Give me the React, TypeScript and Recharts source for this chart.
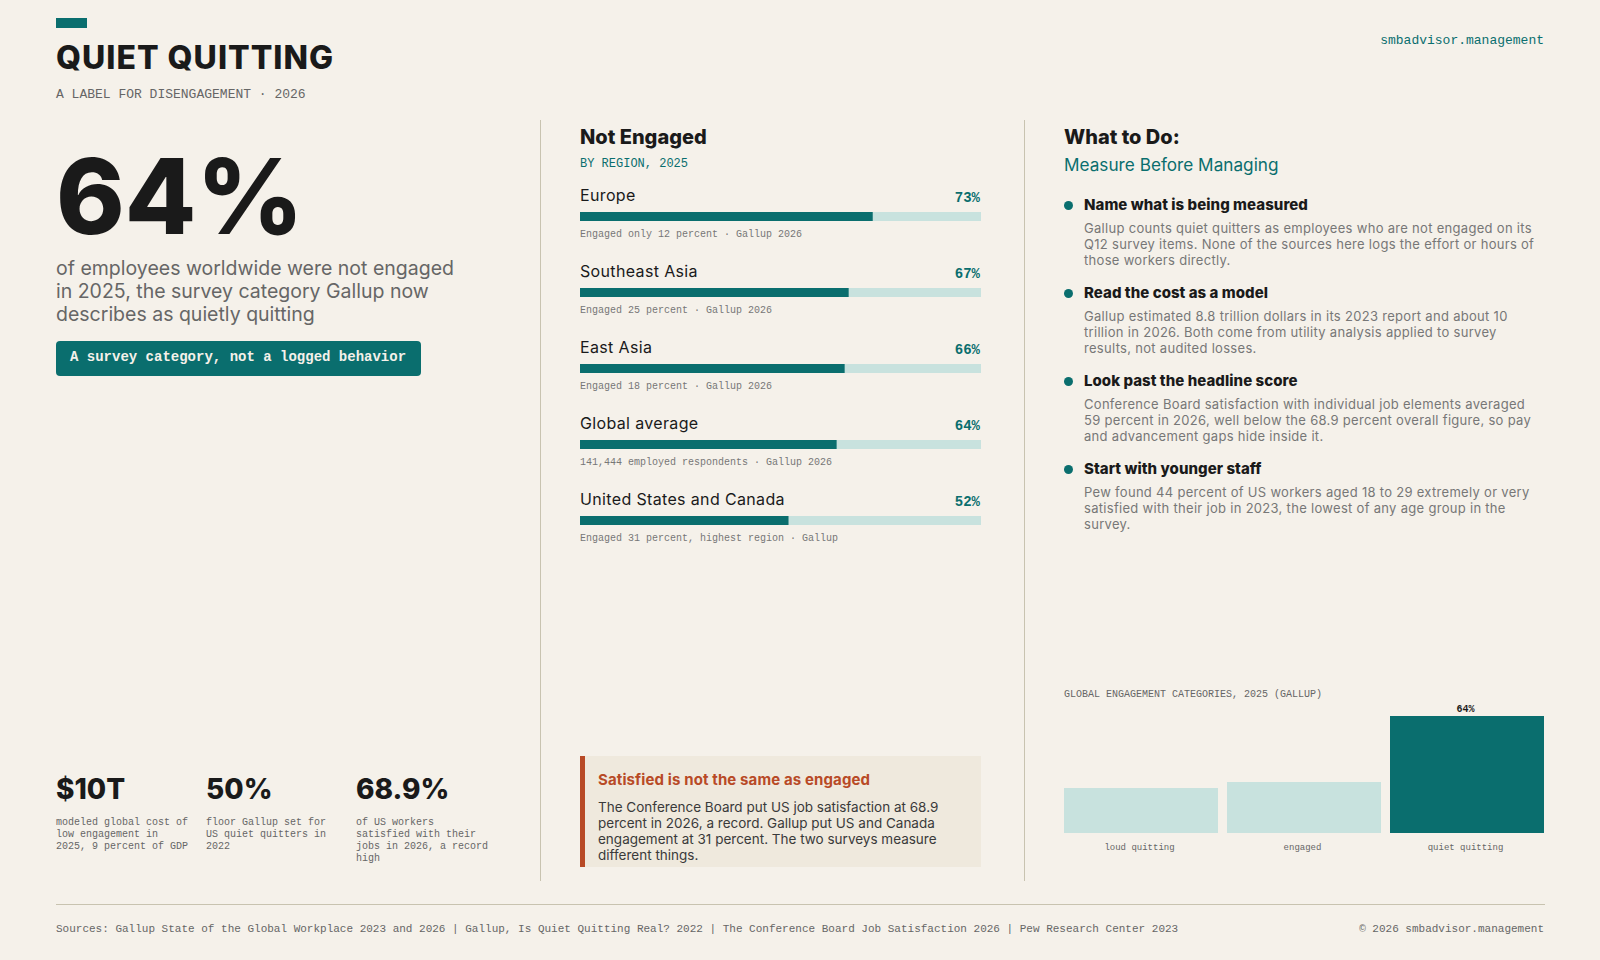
import type { CSSProperties, ReactNode } from 'react'
import { Bar, BarChart, Cell, LabelList, XAxis, YAxis } from 'recharts'

const SANS = 'Inter, "Noto Sans", sans-serif'
const MONO = '"Liberation Mono", "DejaVu Sans Mono", monospace'

const INK = '#1a1a1a'
const GREY = '#666666'
const SOFT = '#777777'
const TEAL = '#0a6e6e'
const PALE = '#c8e2de'
const RUST = '#b84a26'
const PAPER = '#f5f1ea'
const RULE = '#c8c3b0'

const regionNames = ['Europe', 'Southeast Asia', 'East Asia', 'Global average', 'United States and Canada']
const regionValues = [73, 67, 66, 64, 52]
const regionNotes = [
    'Engaged only 12 percent · Gallup 2026',
    'Engaged 25 percent · Gallup 2026',
    'Engaged 18 percent · Gallup 2026',
    '141,444 employed respondents · Gallup 2026',
    'Engaged 31 percent, highest region · Gallup',
]

const categoryNames = ['loud quitting', 'engaged', 'quiet quitting']
const categoryValues = [24.6, 27.9, 64]
const categoryLabels = [undefined, undefined, '64%']
const categoryColors = [PALE, PALE, TEAL]

const statValues = ['$10T', '50%', '68.9%']
const statCaptions = [
    ['modeled global cost of', 'low engagement in', '2025, 9 percent of GDP'],
    ['floor Gallup set for', 'US quiet quitters in', '2022'],
    ['of US workers', 'satisfied with their', 'jobs in 2026, a record', 'high'],
]

const actionTitles = [
    'Name what is being measured',
    'Read the cost as a model',
    'Look past the headline score',
    'Start with younger staff',
]
const actionBodies = [
    ['Gallup counts quiet quitters as employees who are not engaged on its', 'Q12 survey items. None of the sources here logs the effort or hours of', 'those workers directly.'],
    ['Gallup estimated 8.8 trillion dollars in its 2023 report and about 10', 'trillion in 2026. Both come from utility analysis applied to survey', 'results, not audited losses.'],
    ['Conference Board satisfaction with individual job elements averaged', '59 percent in 2026, well below the 68.9 percent overall figure, so pay', 'and advancement gaps hide inside it.'],
    ['Pew found 44 percent of US workers aged 18 to 29 extremely or very', 'satisfied with their job in 2023, the lowest of any age group in the', 'survey.'],
]

const headlineLines = [
    'of employees worldwide were not engaged',
    'in 2025, the survey category Gallup now',
    'describes as quietly quitting',
]
const calloutLines = [
    'The Conference Board put US job satisfaction at 68.9',
    'percent in 2026, a record. Gallup put US and Canada',
    'engagement at 31 percent. The two surveys measure',
    'different things.',
]

const sources =
    'Sources: Gallup State of the Global Workplace 2023 and 2026 | Gallup, Is Quiet Quitting Real? 2022 | The Conference Board Job Satisfaction 2026 | Pew Research Center 2023'

const categoryData = categoryNames.map((name, i) => ({
    name,
    value: categoryValues[i],
    label: categoryLabels[i],
}))

// y is the vertical centre of the line of text
function Txt({ x, y, right, size, color, font = SANS, weight = 400, spacing = 0, children }: {
    x?: number
    y: number
    right?: number
    size: number
    color: string
    font?: string
    weight?: number
    spacing?: number
    children: ReactNode
}) {
    const style: CSSProperties = {
        position: 'absolute',
        top: y - 15,
        height: 30,
        lineHeight: '30px',
        fontSize: size,
        fontFamily: font,
        fontWeight: weight,
        color,
        letterSpacing: spacing,
        whiteSpace: 'pre',
    }
    if (x !== undefined) style.left = x
    if (right !== undefined) style.right = 1600 - right
    return <div style={style}>{children}</div>
}

function Box({ x, y, w, h, color, radius = 0 }: { x: number; y: number; w: number; h: number; color: string; radius?: number }) {
    return <div style={{ position: 'absolute', left: x, top: y, width: w, height: h, background: color, borderRadius: radius }} />
}

function RegionRow({ index }: { index: number }) {
    const top = 76 * index
    return (
        <>
            <Txt x={580} y={195 + top} size={16} color={INK} spacing={0.35}>{regionNames[index]}</Txt>
            <Txt right={980} y={198 + top} size={14} color={TEAL} font={MONO} weight={700}>{regionValues[index]}%</Txt>
            <div style={{ position: 'absolute', left: 580, top: 212 + top }}>
                <BarChart
                    layout="vertical"
                    width={401}
                    height={9}
                    data={[{ name: regionNames[index], value: regionValues[index] }]}
                    margin={{ top: 0, right: 0, bottom: 0, left: 0 }}
                    barCategoryGap={0}
                >
                    <XAxis type="number" domain={[0, 100]} hide />
                    <YAxis type="category" dataKey="name" hide />
                    <Bar dataKey="value" fill={TEAL} background={{ fill: PALE }} isAnimationActive={false} />
                </BarChart>
            </div>
            <Txt x={580} y={234.5 + top} size={10} color={SOFT} font={MONO}>{regionNotes[index]}</Txt>
        </>
    )
}

export default function App() {
    return (
        <div style={{ position: 'absolute', left: 0, top: 0, width: 1600, height: 960, background: PAPER, overflow: 'hidden' }}>
            <Box x={56} y={18} w={31} h={10} color={TEAL} />
            <Txt x={56} y={58} size={32} color={INK} weight={800} spacing={1}>QUIET QUITTING</Txt>
            <Txt x={56} y={94.5} size={13} color={GREY} font={MONO}>A LABEL FOR DISENGAGEMENT · 2026</Txt>
            <Txt right={1544} y={40.5} size={13} color={TEAL} font={MONO}>smbadvisor.management</Txt>

            <Box x={540} y={120} w={1} h={761} color={RULE} />
            <Box x={1024} y={120} w={1} h={761} color={RULE} />

            {/* left column */}
            <Txt x={56} y={196} size={104} color={INK} weight={800}>64%</Txt>
            {headlineLines.map((line, i) => (
                <Txt key={line} x={56} y={267.5 + i * 23} size={19.5} color={GREY}>{line}</Txt>
            ))}
            <Box x={56} y={341} w={365} h={35} color={TEAL} radius={4} />
            <Txt x={70} y={356.5} size={14} color={PAPER} font={MONO} weight={700}>A survey category, not a logged behavior</Txt>

            {statValues.map((value, i) => (
                <div key={value}>
                    <Txt x={56 + i * 150} y={789} size={28} color={INK} weight={800}>{value}</Txt>
                    {statCaptions[i].map((line, j) => (
                        <Txt key={line} x={56 + i * 150} y={823 + j * 12} size={10} color={GREY} font={MONO}>{line}</Txt>
                    ))}
                </div>
            ))}

            {/* middle column */}
            <Txt x={580} y={136.5} size={20} color={INK} weight={800}>Not Engaged</Txt>
            <Txt x={580} y={164} size={12} color={TEAL} font={MONO}>BY REGION, 2025</Txt>
            {regionNames.map((name, i) => (
                <RegionRow key={name} index={i} />
            ))}

            <Box x={580} y={756} w={401} h={111} color="#efe9dd" />
            <Box x={580} y={756} w={5} h={111} color={RUST} />
            <Txt x={598} y={779.5} size={15} color={RUST} weight={700} spacing={0.12}>Satisfied is not the same as engaged</Txt>
            {calloutLines.map((line, i) => (
                <Txt key={line} x={598} y={807 + i * 16} size={13.5} color="#3a3a3a">{line}</Txt>
            ))}

            {/* right column */}
            <Txt x={1064} y={136.5} size={20} color={INK} weight={800}>What to Do:</Txt>
            <Txt x={1064} y={164.5} size={17.2} color={TEAL}>Measure Before Managing</Txt>
            {actionTitles.map((title, i) => (
                <div key={title}>
                    <Box x={1064} y={200.5 + i * 88} w={9} h={9} color={TEAL} radius={5} />
                    <Txt x={1084} y={205 + i * 88} size={15} color={INK} weight={800} spacing={0.05}>{title}</Txt>
                    {actionBodies[i].map((line, j) => (
                        <Txt key={line} x={1084} y={228 + i * 88 + j * 16} size={13} color={SOFT} spacing={0.3}>{line}</Txt>
                    ))}
                </div>
            ))}

            <Txt x={1064} y={694.5} size={10} color={GREY} font={MONO}>GLOBAL ENGAGEMENT CATEGORIES, 2025 (GALLUP)</Txt>
            <div style={{ position: 'absolute', left: 1059, top: 696 }}>
                <BarChart
                    width={490}
                    height={165}
                    data={categoryData}
                    margin={{ top: 20, right: 0.5, bottom: 0, left: 0.5 }}
                    barCategoryGap={4.5}
                >
                    <XAxis
                        dataKey="name"
                        axisLine={false}
                        tickLine={false}
                        height={28}
                        interval={0}
                        tickMargin={5}
                        tick={{ fill: GREY, fontSize: 9, fontFamily: MONO, dx: -1.5 }}
                    />
                    <YAxis domain={[0, 64]} hide />
                    <Bar dataKey="value" isAnimationActive={false}>
                        {categoryData.map((row, i) => (
                            <Cell key={row.name} fill={categoryColors[i]} />
                        ))}
                        <LabelList dataKey="label" position="top" offset={4} dx={-1.5} fill={INK} fontSize={10} fontFamily={MONO} fontWeight={700} />
                    </Bar>
                </BarChart>
            </div>

            {/* footer */}
            <Box x={56} y={904} w={1489} h={1} color={RULE} />
            <Txt x={56} y={929} size={11} color={GREY} font={MONO}>{sources}</Txt>
            <Txt right={1544} y={929} size={11} color={GREY} font={MONO}>© 2026 smbadvisor.management</Txt>
        </div>
    )
}
